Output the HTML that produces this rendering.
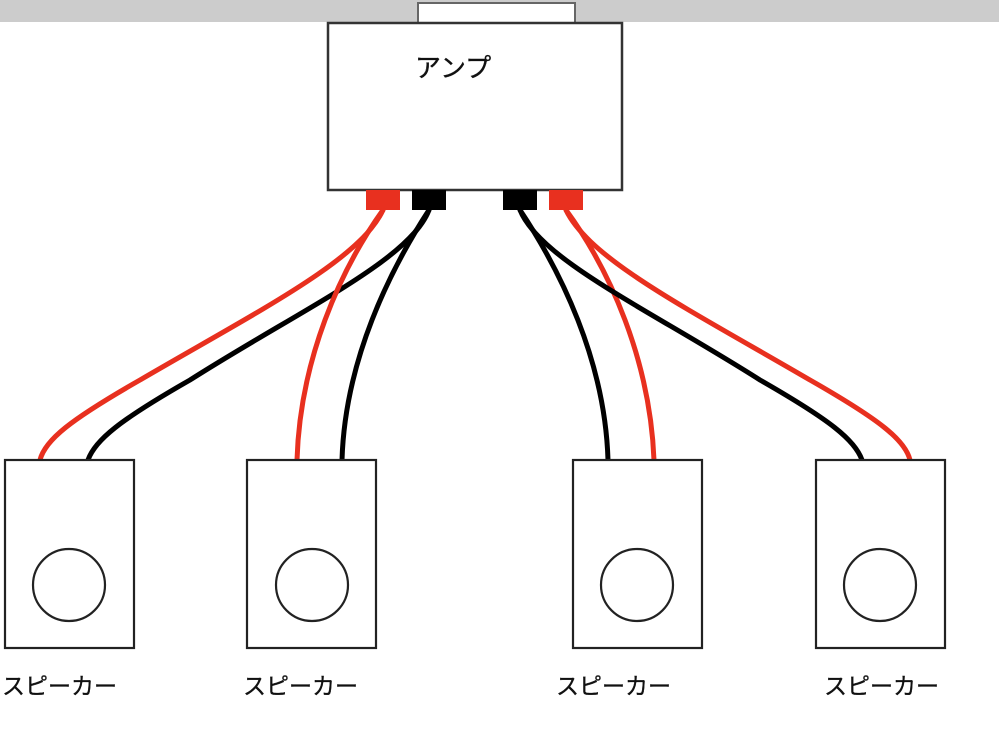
<!DOCTYPE html>
<html><head><meta charset="utf-8"><style>
html,body{margin:0;padding:0;background:#fff;width:999px;height:743px;overflow:hidden}
text{font-family:"Liberation Sans","Noto Sans CJK JP",sans-serif}
</style></head><body>
<svg width="999" height="743" xmlns="http://www.w3.org/2000/svg">
<rect x="0" y="0" width="999" height="22" fill="#cccccc"/>
<rect x="418" y="3" width="157" height="22" fill="#fff" stroke="#666" stroke-width="2"/>
<rect x="328" y="23" width="294" height="167" fill="#fff" stroke="#333" stroke-width="2.5"/>
<text x="415" y="77" font-size="26" fill="#111" stroke="#111" stroke-width="0.3">アンプ</text>
<rect x="366" y="190" width="34" height="20" fill="#e8301f"/>
<rect x="412" y="190" width="34" height="20" fill="#000"/>
<rect x="503" y="190" width="34" height="20" fill="#000"/>
<rect x="549" y="190" width="34" height="20" fill="#e8301f"/>
<g fill="none" stroke-width="5" stroke-linecap="round">
<path d="M383 210 C360 260 260 310 140 380 C70 420 45 440 40 460" stroke="#e8301f"/>
<path d="M429 210 C410 260 300 310 190 380 C120 420 95 440 88 460" stroke="#000"/>
<path d="M383 210 C340 270 300 360 297 460" stroke="#e8301f"/>
<path d="M429 210 C390 270 345 360 342 460" stroke="#000"/>
<path d="M520 210 C560 270 605 360 608 460" stroke="#000"/>
<path d="M566 210 C610 270 650 360 654 460" stroke="#e8301f"/>
<path d="M520 210 C540 260 650 310 760 380 C830 420 855 440 862 460" stroke="#000"/>
<path d="M566 210 C590 260 690 310 810 380 C880 420 905 440 910 460" stroke="#e8301f"/>
</g>
<g fill="#fff" stroke="#222" stroke-width="2.2">
<rect x="5" y="460" width="129" height="188"/>
<rect x="247" y="460" width="129" height="188"/>
<rect x="573" y="460" width="129" height="188"/>
<rect x="816" y="460" width="129" height="188"/>
<circle cx="69" cy="585" r="36"/>
<circle cx="312" cy="585" r="36"/>
<circle cx="637" cy="585" r="36"/>
<circle cx="880" cy="585" r="36"/>
</g>
<g font-size="23" fill="#111" stroke="#111" stroke-width="0.3">
<text x="2" y="694">スピーカー</text>
<text x="243" y="694">スピーカー</text>
<text x="556" y="694">スピーカー</text>
<text x="824" y="694">スピーカー</text>
</g>
</svg>
</body></html>
